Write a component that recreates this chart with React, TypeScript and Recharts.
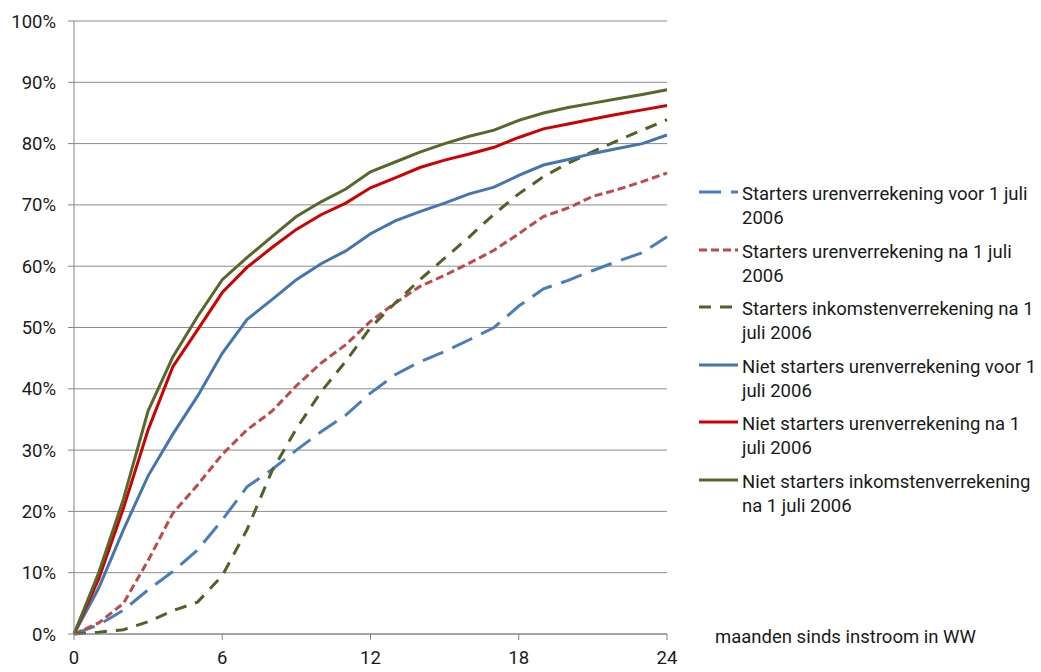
import React from "react";
import { LineChart, Line, XAxis, YAxis, CartesianGrid } from "recharts";

const months = [0, 1, 2, 3, 4, 5, 6, 7, 8, 9, 10, 11, 12, 13, 14, 15, 16, 17, 18, 19, 20, 21, 22, 23, 24];

const startersUrenVoor = [0, 1.5, 3.9, 7.2, 10.2, 13.7, 18.6, 24.0, 26.8, 30.0, 33.0, 35.7, 39.3, 42.3, 44.4, 46.1, 48.0, 50.0, 53.5, 56.3, 57.7, 59.3, 60.8, 62.2, 64.8];
const startersUrenNa = [0, 1.8, 5.0, 12.0, 19.7, 24.3, 29.3, 33.3, 36.3, 40.5, 44.2, 47.2, 51.0, 54.0, 56.7, 58.5, 60.5, 62.6, 65.3, 68.1, 69.5, 71.4, 72.5, 73.8, 75.2];
const startersInkNa = [0, 0.3, 0.7, 2.0, 3.8, 5.2, 9.5, 17.0, 26.5, 33.5, 39.5, 44.5, 50.0, 54.0, 57.8, 61.3, 64.8, 68.5, 71.8, 74.6, 76.8, 78.7, 80.5, 82.2, 83.9];
const nietStartersUrenVoor = [0, 7.5, 17.0, 25.8, 32.6, 38.8, 45.8, 51.3, 54.5, 57.8, 60.4, 62.5, 65.3, 67.4, 68.9, 70.3, 71.8, 72.9, 74.8, 76.5, 77.4, 78.4, 79.2, 80.0, 81.4];
const nietStartersUrenNa = [0, 9.0, 20.5, 33.3, 43.6, 49.6, 55.7, 59.8, 63.0, 66.0, 68.4, 70.3, 72.8, 74.4, 76.1, 77.3, 78.3, 79.4, 81.0, 82.4, 83.2, 84.0, 84.8, 85.5, 86.2];
const nietStartersInkNa = [0, 10.0, 22.0, 36.4, 45.2, 51.8, 57.8, 61.4, 64.8, 68.1, 70.5, 72.6, 75.4, 77.0, 78.6, 80.0, 81.2, 82.2, 83.8, 85.0, 85.9, 86.6, 87.3, 88.0, 88.8];

const xTicks = [0, 6, 12, 18, 24];
const yTicks = [0, 10, 20, 30, 40, 50, 60, 70, 80, 90, 100];
const xAxisTitle = "maanden sinds instroom in WW";

const seriesDefs = [
  { key: "s1", values: startersUrenVoor, color: "#4A7EBB", dash: "22 10", lines: ["Starters urenverrekening voor 1 juli", "2006"] },
  { key: "s2", values: startersUrenNa, color: "#BE4B48", dash: "8 4", lines: ["Starters urenverrekening na 1 juli", "2006"] },
  { key: "s3", values: startersInkNa, color: "#4F6228", dash: "12 9", lines: ["Starters inkomstenverrekening na 1", "juli 2006"] },
  { key: "s4", values: nietStartersUrenVoor, color: "#4376B0", dash: undefined, lines: ["Niet starters urenverrekening voor 1", "juli 2006"] },
  { key: "s5", values: nietStartersUrenNa, color: "#D00000", dash: undefined, lines: ["Niet starters urenverrekening na 1", "juli 2006"] },
  { key: "s6", values: nietStartersInkNa, color: "#56692C", dash: undefined, lines: ["Niet starters inkomstenverrekening", "na 1 juli 2006"] },
];

const data = months.map((m, i) => {
  const row: Record<string, number> = { m };
  seriesDefs.forEach((s) => {
    row[s.key] = s.values[i];
  });
  return row;
});

const FONT = "Roboto, 'Open Sans', sans-serif";
const FS = 18.5;

export default function App() {
  return (
    <div style={{ position: "absolute", left: 0, top: 0, width: 1041, height: 672, background: "#fff", overflow: "hidden", fontFamily: FONT }}>
      <LineChart width={1041} height={672} data={data} margin={{ top: 21, right: 374, bottom: 8, left: 0 }}>
        <CartesianGrid horizontal={true} vertical={false} stroke="#8C8C8C" strokeWidth={1} />
        <XAxis
          dataKey="m"
          type="number"
          domain={[0, 24]}
          ticks={xTicks}
          height={30}
          tickSize={6}
          tickMargin={11}
          interval={0}
          axisLine={{ stroke: "#868686" }}
          tickLine={{ stroke: "#868686" }}
          tick={{ fill: "#1a1a1a", fontSize: FS, fontFamily: FONT }}
        />
        <YAxis
          type="number"
          domain={[0, 100]}
          ticks={yTicks}
          width={74}
          tickSize={6}
          tickMargin={12}
          interval={0}
          tickFormatter={(v: number) => `${v}%`}
          axisLine={{ stroke: "#868686" }}
          tickLine={{ stroke: "#868686" }}
          tick={{ fill: "#1a1a1a", fontSize: FS, fontFamily: FONT }}
        />
        {seriesDefs.map((s) => (
          <Line
            key={s.key}
            dataKey={s.key}
            type="linear"
            stroke={s.color}
            strokeWidth={3}
            strokeDasharray={s.dash}
            dot={false}
            activeDot={false}
            isAnimationActive={false}
          />
        ))}
      </LineChart>
      {seriesDefs.map((s, i) => {
        const top = 182 + i * 57.6;
        return (
          <div key={s.key} style={{ position: "absolute", left: 0, top, width: 1041 }}>
            <svg width={42} height={8} style={{ position: "absolute", left: 698, top: 6 }}>
              <line x1={1} y1={4} x2={40} y2={4} stroke={s.color} strokeWidth={3} strokeDasharray={s.dash} />
            </svg>
            <div style={{ position: "absolute", left: 742, top: 0, fontSize: FS, lineHeight: "24px", color: "#1a1a1a", whiteSpace: "nowrap" }}>
              {s.lines.map((l, j) => (
                <div key={j}>{l}</div>
              ))}
            </div>
          </div>
        );
      })}
      <div style={{ position: "absolute", left: 715, top: 625, fontSize: FS, lineHeight: "24px", color: "#1a1a1a", whiteSpace: "nowrap" }}>
        {xAxisTitle}
      </div>
    </div>
  );
}
